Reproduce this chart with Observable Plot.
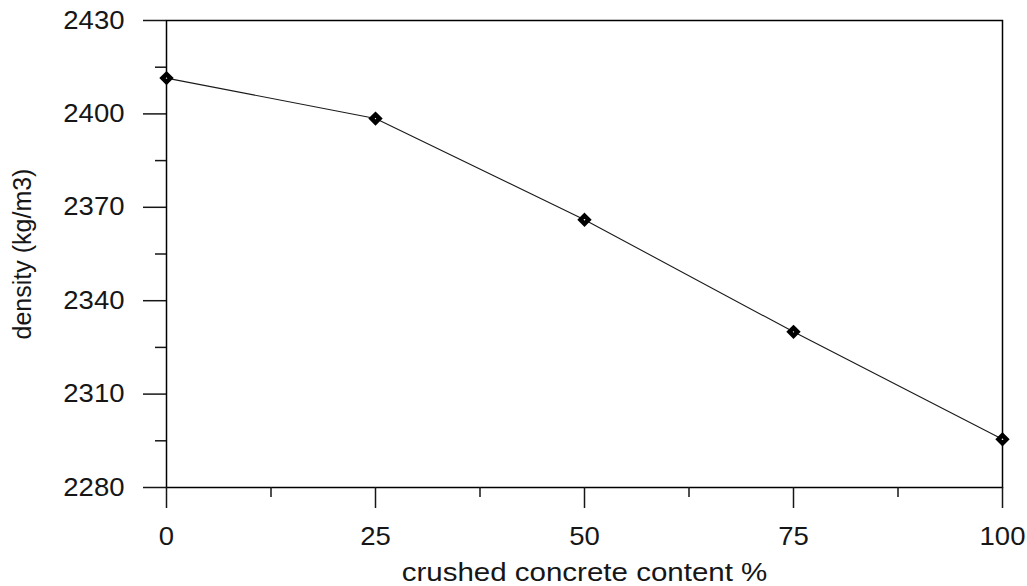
<!DOCTYPE html>
<html>
<head>
<meta charset="utf-8">
<script src="https://cdn.jsdelivr.net/npm/d3@7"></script>
<script src="https://cdn.jsdelivr.net/npm/@observablehq/plot@0.6"></script>
<style>
  html, body { margin: 0; padding: 0; background: #fff; }
</style>
</head>
<body>
<div id="chart"></div>
<script>
const content = [0, 25, 50, 75, 100];
const density = [2411.5, 2398.5, 2366, 2330, 2295.5];
const xTicks = [0, 25, 50, 75, 100];
const xMinorTicks = [12.5, 37.5, 62.5, 87.5];
const yTicks = [2280, 2310, 2340, 2370, 2400, 2430];
const yMinorTicks = [2295, 2325, 2355, 2385, 2415];
const xLabel = "crushed concrete content %";
const yLabel = "density (kg/m3)";

const data = content.map((c, i) => ({content: c, density: density[i]}));

const font = "'Liberation Sans', Arial, Helvetica, sans-serif";

const chart = Plot.plot({
  width: 1027,
  height: 586,
  marginLeft: 166,
  marginRight: 25,
  marginTop: 20,
  marginBottom: 99,
  style: {fontFamily: font, fontSize: "25px", color: "#161616", background: "white", overflow: "visible"},
  x: {domain: [0, 100]},
  y: {domain: [2280, 2430]},
  marks: [
    Plot.frame({stroke: "black", strokeWidth: 1.5}),
    Plot.axisX(xTicks, {tickSize: 21, tickPadding: 19, strokeWidth: 1.5, fontSize: 25,
      tickFormat: d => String(d),
      label: xLabel, labelAnchor: "center", labelOffset: 93, labelArrow: false}),
    Plot.axisX(xMinorTicks, {tickSize: 10, strokeWidth: 1.5, tickFormat: () => "", label: null}),
    Plot.axisY(yTicks, {tickSize: 23, tickPadding: 19, strokeWidth: 1.5, fontSize: 25,
      tickFormat: d => String(d),
      label: yLabel, labelAnchor: "center", labelOffset: 153, labelArrow: false}),
    Plot.axisY(yMinorTicks, {tickSize: 11, strokeWidth: 1.5, tickFormat: () => "", label: null}),
    Plot.line(data, {x: "content", y: "density", stroke: "#1a1a1a", strokeWidth: 1.1}),
    Plot.dot(data, {x: "content", y: "density", symbol: "diamond2", r: 3.6, stroke: "black", strokeWidth: 4.5, fill: "white"})
  ]
});
document.getElementById("chart").appendChild(chart);

// The reference's lettering is horizontally wider than Arial: stretch glyphs a little.
function stretch(selector, factor) {
  chart.querySelectorAll(selector).forEach(t => {
    const len = t.getComputedTextLength();
    if (len > 0) {
      t.setAttribute("textLength", (len * factor).toFixed(1));
      t.setAttribute("lengthAdjust", "spacingAndGlyphs");
    }
  });
}
stretch('[aria-label="x-axis tick label"] text', 1.1);
stretch('[aria-label="y-axis tick label"] text', 1.1);
stretch('[aria-label="x-axis label"] text', 1.18);
</script>
</body>
</html>
